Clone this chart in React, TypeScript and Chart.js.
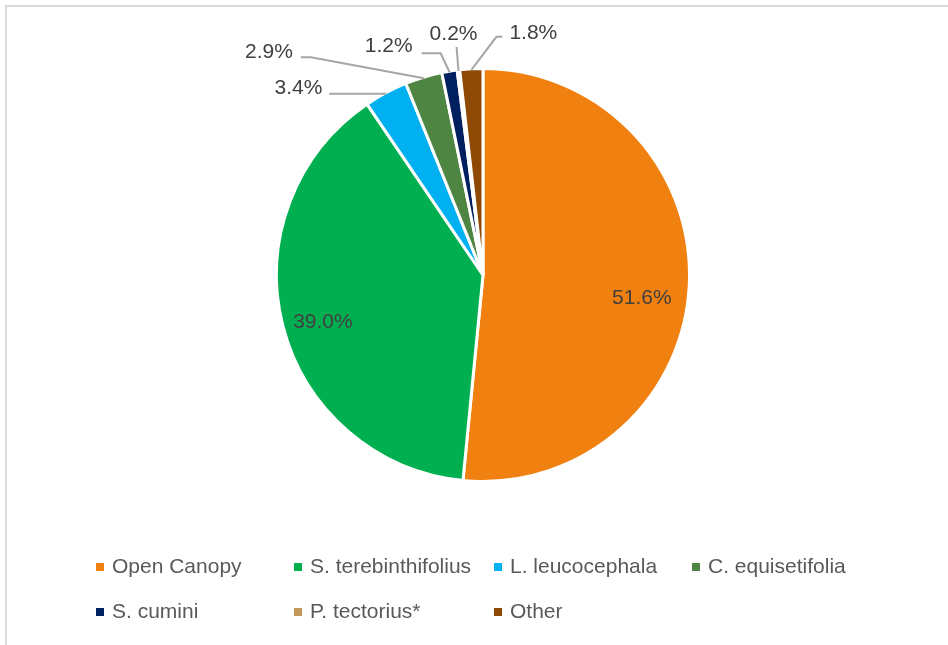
import React, { useEffect, useRef } from "react";
import { Chart, registerables } from "chart.js";

Chart.register(...registerables);

const categories = [
  "Open Canopy",
  "S. terebinthifolius",
  "L. leucocephala",
  "C. equisetifolia",
  "S. cumini",
  "P. tectorius*",
  "Other",
];
const shares = [51.6, 39.0, 3.4, 2.9, 1.2, 0.2, 1.8];
const percentLabels = ["51.6%", "39.0%", "3.4%", "2.9%", "1.2%", "0.2%", "1.8%"];
const sliceColors = ["#F08010", "#00B050", "#00B0F0", "#4E8542", "#002060", "#C49A5C", "#8E4A04"];

const FONT = '"Liberation Sans", Arial, sans-serif';
const TEXT_COLOR = "#404040";
const LEGEND_COLOR = "#595959";
const LEADER_COLOR = "#A6A6A6";

// label placement relative to each slice's geometry
type Placement =
  | { kind: "inside"; rf: number; dx: number; dy: number }
  | { kind: "outside"; pts: number[][]; tx: number; ty: number; align: CanvasTextAlign };

const placements: Placement[] = [
  { kind: "inside", rf: 0.77, dx: 0, dy: 15 },
  { kind: "inside", rf: 0.8, dx: 0, dy: 6 },
  { kind: "outside", pts: [[-57, 0]], tx: -64, ty: -5, align: "right" },
  { kind: "outside", pts: [[-113, -21], [-123, -21]], tx: -131, ty: -26, align: "right" },
  { kind: "outside", pts: [[-9, -19], [-28, -19]], tx: -37, ty: -26, align: "right" },
  { kind: "outside", pts: [[-2, -24]], tx: -5, ty: -37, align: "center" },
  { kind: "outside", pts: [[25, -33], [31, -33]], tx: 38, ty: -37, align: "left" },
];

const legendCols = [96, 294, 494, 692];
const legendRows = [567, 612];

const framePlugin = {
  id: "frame",
  beforeDraw(chart: any) {
    const ctx = chart.ctx;
    ctx.save();
    ctx.fillStyle = "#ffffff";
    ctx.fillRect(0, 0, chart.width, chart.height);
    ctx.strokeStyle = "#D9D9D9";
    ctx.lineWidth = 2;
    ctx.beginPath();
    ctx.moveTo(6, chart.height);
    ctx.lineTo(6, 6);
    ctx.lineTo(chart.width, 6);
    ctx.stroke();
    ctx.restore();
  },
};

const labelPlugin = {
  id: "sliceLabels",
  afterDatasetsDraw(chart: any) {
    const ctx = chart.ctx;
    const meta = chart.getDatasetMeta(0);
    ctx.save();
    ctx.font = `21px ${FONT}`;
    ctx.fillStyle = TEXT_COLOR;
    ctx.textBaseline = "middle";
    meta.data.forEach((arc: any, i: number) => {
      const p = arc.getProps(["x", "y", "startAngle", "endAngle", "outerRadius"], true);
      const mid = (p.startAngle + p.endAngle) / 2;
      const pl = placements[i];
      if (!pl) return;
      if (pl.kind === "inside") {
        const r = p.outerRadius * pl.rf;
        const x = p.x + Math.cos(mid) * r + pl.dx;
        const y = p.y + Math.sin(mid) * r + pl.dy;
        ctx.textAlign = "center";
        ctx.fillText(percentLabels[i], x, y);
      } else {
        const r = p.outerRadius - 1;
        const ex = p.x + Math.cos(mid) * r;
        const ey = p.y + Math.sin(mid) * r;
        ctx.strokeStyle = LEADER_COLOR;
        ctx.lineWidth = 2;
        ctx.beginPath();
        ctx.moveTo(ex, ey);
        pl.pts.forEach((pt) => ctx.lineTo(ex + pt[0], ey + pt[1]));
        ctx.stroke();
        ctx.textAlign = pl.align;
        ctx.fillText(percentLabels[i], ex + pl.tx, ey + pl.ty);
      }
    });
    ctx.restore();
  },
};

const legendPlugin = {
  id: "gridLegend",
  afterDraw(chart: any) {
    const ctx = chart.ctx;
    ctx.save();
    ctx.font = `21px ${FONT}`;
    ctx.textBaseline = "middle";
    ctx.textAlign = "left";
    categories.forEach((name, i) => {
      const col = legendCols[i % 4];
      const row = legendRows[Math.floor(i / 4)];
      ctx.fillStyle = sliceColors[i];
      ctx.fillRect(col, row - 4, 8, 8);
      ctx.fillStyle = LEGEND_COLOR;
      ctx.fillText(name, col + 16, row);
    });
    ctx.restore();
  },
};

export default function App() {
  const ref = useRef<HTMLCanvasElement | null>(null);
  useEffect(() => {
    if (!ref.current) return;
    const chart = new Chart(ref.current, {
      type: "pie",
      data: {
        labels: categories,
        datasets: [
          {
            data: shares,
            backgroundColor: sliceColors,
            borderColor: "#ffffff",
            borderWidth: 3,
          },
        ],
      },
      options: {
        responsive: false,
        animation: false,
        events: [],
        layout: { padding: { left: 275, right: 257, top: 67, bottom: 162 } },
        plugins: {
          legend: { display: false },
          tooltip: { enabled: false },
          title: { display: false },
        },
      },
      plugins: [framePlugin, labelPlugin, legendPlugin],
    });
    return () => chart.destroy();
  }, []);
  return (
    <div style={{ position: "fixed", left: 0, top: 0, width: 948, height: 645, background: "#fff" }}>
      <canvas ref={ref} width={948} height={645} style={{ width: 948, height: 645 }} />
    </div>
  );
}
